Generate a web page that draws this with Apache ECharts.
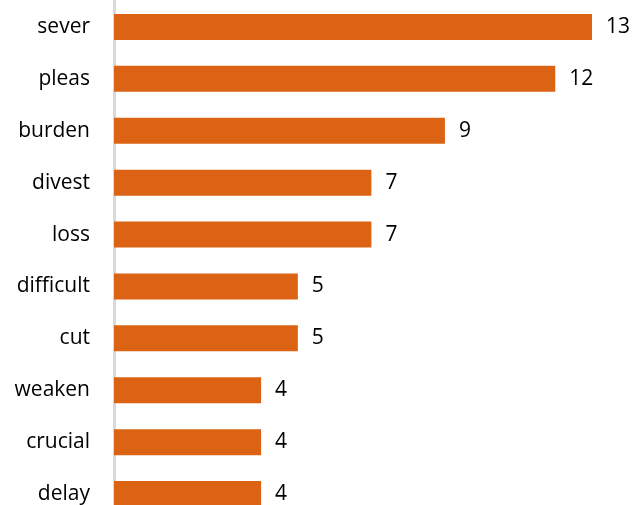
<!DOCTYPE html>
<html><head><meta charset="utf-8">
<script src="https://cdn.jsdelivr.net/npm/echarts@6/dist/echarts.min.js"></script>
<style>html,body{margin:0;padding:0;background:#fff}#c{width:633px;height:505px}</style>
</head><body><div id="c"></div>
<script>
var categories = ['sever','pleas','burden','divest','loss','difficult','cut','weaken','crucial','delay'];
var values = [13,12,9,7,7,5,5,4,4,4];
var chart = echarts.init(document.getElementById('c'), null, {renderer:'canvas'});
chart.setOption({
  animation:false,
  grid:{left:114, top:1, width:478, height:519, containLabel:false, outerBoundsMode:'none'},
  xAxis:{type:'value', min:0, max:13, show:false},
  yAxis:{type:'category', data:categories, inverse:true,
    axisLine:{show:true, lineStyle:{color:'#d9d9d9', width:3}},
    axisTick:{show:false},
    axisLabel:{margin:24, fontSize:21, color:'#000', fontFamily:'Open Sans'}},
  series:[{type:'bar', data:values, barWidth:26,
    itemStyle:{color:'#dd6314'},
    label:{show:true, position:'right', distance:14, fontSize:21, color:'#000', fontFamily:'Open Sans'}}]
});
</script></body></html>
